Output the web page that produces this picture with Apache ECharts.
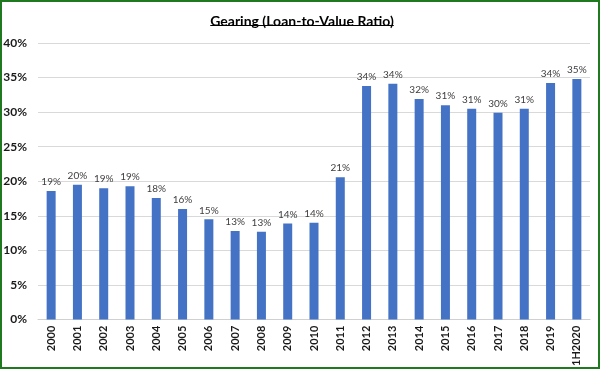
<!DOCTYPE html>
<html>
<head>
<meta charset="utf-8">
<script src="https://cdn.jsdelivr.net/npm/echarts@6/dist/echarts.min.js"></script>
<style>
html,body{margin:0;padding:0;background:#fff;}
#wrap{position:relative;width:600px;height:369px;}
#chart{position:absolute;left:0;top:0;width:600px;height:369px;}
#frame{position:absolute;left:0;top:0;width:600px;height:369px;box-sizing:border-box;border:2px solid #1f7a1f;pointer-events:none;}
</style>
</head>
<body>
<div id="wrap"><div id="chart"></div><div id="frame"></div></div>
<script>
const categories = ['2000','2001','2002','2003','2004','2005','2006','2007','2008','2009','2010','2011','2012','2013','2014','2015','2016','2017','2018','2019','1H2020'];
const gearing = [18.6, 19.5, 19.0, 19.3, 17.6, 16.0, 14.5, 12.8, 12.7, 13.9, 14.0, 20.6, 33.8, 34.1, 31.9, 31.0, 30.5, 29.9, 30.5, 34.2, 34.8];
const yTicks = [0, 5, 10, 15, 20, 25, 30, 35, 40];
const titleText = 'Gearing (Loan-to-Value Ratio)';

const FONT = 'Lato';
const TITLE_SIZE = 14;
const cnv = document.createElement('canvas').getContext('2d');
cnv.font = 'bold ' + TITLE_SIZE + 'px ' + FONT;
const tw = cnv.measureText(titleText).width;
const tx = 297 - tw / 2;

const chart = echarts.init(document.getElementById('chart'), null, {renderer: 'canvas'});
chart.setOption({
  animation: false,
  backgroundColor: '#fff',
  title: {
    text: titleText,
    left: tx,
    top: 9,
    textStyle: {fontFamily: FONT, fontSize: TITLE_SIZE, fontWeight: 'bold', color: '#000'}
  },
  graphic: [{
    type: 'line',
    shape: {x1: tx + 5, y1: 25.5, x2: tx + 5 + tw, y2: 25.5},
    style: {stroke: '#000', lineWidth: 1}
  }],
  grid: {left: 38, right: 10, top: 43, bottom: 49, containLabel: false},
  xAxis: {
    type: 'category',
    data: categories,
    axisLine: {lineStyle: {color: '#d0d0d0'}},
    axisTick: {show: false},
    axisLabel: {rotate: 90, fontFamily: FONT, fontSize: 11, fontWeight: 'bold', color: '#1a1a1a', margin: 6}
  },
  yAxis: {
    type: 'value',
    min: yTicks[0],
    max: yTicks[yTicks.length - 1],
    interval: 5,
    axisLine: {show: false},
    axisTick: {show: false},
    splitLine: {lineStyle: {color: '#d9d9d9'}},
    axisLabel: {formatter: v => v + '%', fontFamily: FONT, fontSize: 12, fontWeight: 'bold', color: '#1a1a1a', margin: 11}
  },
  series: [{
    type: 'bar',
    data: gearing,
    barWidth: 9,
    itemStyle: {color: '#4472c4'},
    label: {
      show: true,
      position: 'top',
      distance: 4,
      formatter: p => Math.round(p.value) + '%',
      fontFamily: FONT,
      fontSize: 10,
      color: '#404040'
    }
  }]
});
</script>
</body>
</html>
